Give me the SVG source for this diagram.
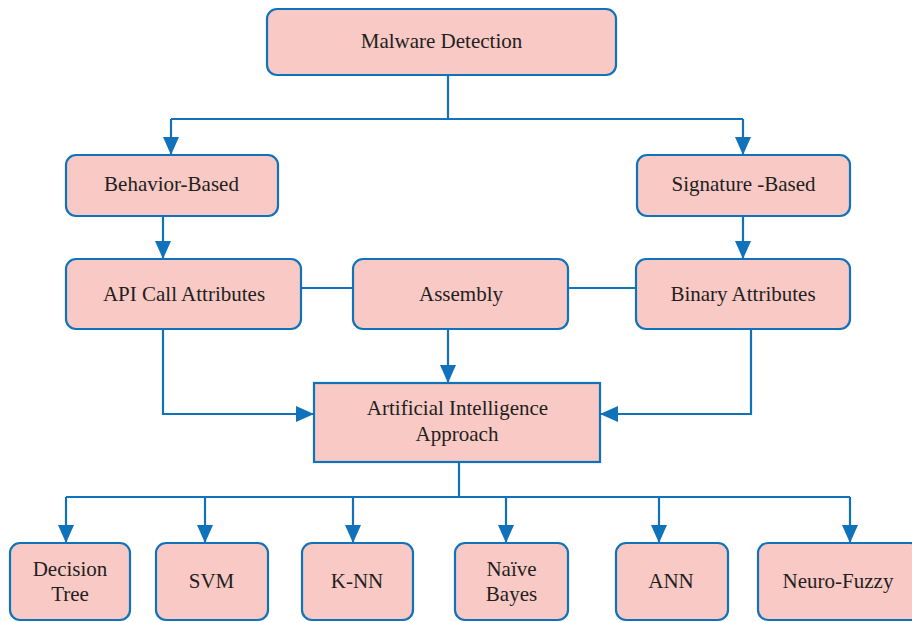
<svg xmlns="http://www.w3.org/2000/svg" width="912" height="622" viewBox="0 0 912 622">
  <style>
    .box { fill: #F9C9C5; stroke: #1172BC; stroke-width: 2.2; }
    .lbl { font-family: 'Liberation Serif', 'DejaVu Serif', serif; font-size: 21px; fill: #231F20; text-anchor: middle; }
    .wire { fill: none; stroke: #1172BC; stroke-width: 2.2; }
  </style>
  <defs>
    <marker id="arrow" viewBox="0 0 18 16" refX="18" refY="8" markerWidth="18" markerHeight="16" markerUnits="userSpaceOnUse" orient="auto">
      <path d="M0,0 L18,8 L0,16 z" fill="#1172BC"/>
    </marker>
  </defs>
  <rect width="912" height="622" fill="#FFFFFF"/>

  <!-- connectors -->
  <g id="connectors">
    <path class="wire" d="M448,75 V119"/>
    <path class="wire" d="M171,119 H743"/>
    <path class="wire" d="M171,119 V155" marker-end="url(#arrow)"/>
    <path class="wire" d="M743,119 V155" marker-end="url(#arrow)"/>
    <path class="wire" d="M163,216 V259" marker-end="url(#arrow)"/>
    <path class="wire" d="M743,216 V259" marker-end="url(#arrow)"/>
    <path class="wire" d="M301,288 H353"/>
    <path class="wire" d="M568,288 H636"/>
    <path class="wire" d="M448,329 V383" marker-end="url(#arrow)"/>
    <path class="wire" d="M163,329 V414 H314" marker-end="url(#arrow)"/>
    <path class="wire" d="M751,329 V414 H600" marker-end="url(#arrow)"/>
    <path class="wire" d="M459,462 V497"/>
    <path class="wire" d="M66,497 H850"/>
    <path class="wire" d="M66,497 V543" marker-end="url(#arrow)"/>
    <path class="wire" d="M205,497 V543" marker-end="url(#arrow)"/>
    <path class="wire" d="M353,497 V543" marker-end="url(#arrow)"/>
    <path class="wire" d="M506,497 V543" marker-end="url(#arrow)"/>
    <path class="wire" d="M659,497 V543" marker-end="url(#arrow)"/>
    <path class="wire" d="M850,497 V543" marker-end="url(#arrow)"/>
  </g>

  <g id="malware-detection">
    <rect class="box" x="267" y="9" width="349" height="66" rx="10"/>
    <text class="lbl" x="441.5" y="48">Malware Detection</text>
  </g>
  <g id="behavior-based">
    <rect class="box" x="66" y="155" width="212" height="61" rx="10"/>
    <text class="lbl" x="171.5" y="191">Behavior-Based</text>
  </g>
  <g id="signature-based">
    <rect class="box" x="637" y="155" width="213" height="61" rx="10"/>
    <text class="lbl" x="743.5" y="191">Signature -Based</text>
  </g>
  <g id="api-call-attributes">
    <rect class="box" x="66" y="259" width="235" height="70" rx="10"/>
    <text class="lbl" x="184" y="301">API Call Attributes</text>
  </g>
  <g id="assembly">
    <rect class="box" x="353" y="259" width="215" height="70" rx="10"/>
    <text class="lbl" x="461" y="301">Assembly</text>
  </g>
  <g id="binary-attributes">
    <rect class="box" x="636" y="259" width="214" height="70" rx="10"/>
    <text class="lbl" x="743" y="301">Binary Attributes</text>
  </g>
  <g id="ai-approach">
    <rect class="box" x="314" y="383" width="286" height="79"/>
    <text class="lbl" x="457.5" y="415">Artificial Intelligence</text>
    <text class="lbl" x="457" y="441">Approach</text>
  </g>
  <g id="decision-tree">
    <rect class="box" x="10" y="543" width="120" height="77" rx="10"/>
    <text class="lbl" x="70" y="576">Decision</text>
    <text class="lbl" x="70" y="601">Tree</text>
  </g>
  <g id="svm">
    <rect class="box" x="156" y="543" width="112" height="77" rx="10"/>
    <text class="lbl" x="211.5" y="588">SVM</text>
  </g>
  <g id="knn">
    <rect class="box" x="302" y="543" width="111" height="77" rx="10"/>
    <text class="lbl" x="357" y="588">K-NN</text>
  </g>
  <g id="naive-bayes">
    <rect class="box" x="455" y="543" width="113" height="77" rx="10"/>
    <text class="lbl" x="511.5" y="576">Naïve</text>
    <text class="lbl" x="511.5" y="601">Bayes</text>
  </g>
  <g id="ann">
    <rect class="box" x="616" y="543" width="112" height="77" rx="10"/>
    <text class="lbl" x="671" y="588">ANN</text>
  </g>
  <g id="neuro-fuzzy">
    <rect class="box" x="758" y="543" width="162" height="77" rx="10"/>
    <text class="lbl" x="838" y="588">Neuro-Fuzzy</text>
  </g>
</svg>
